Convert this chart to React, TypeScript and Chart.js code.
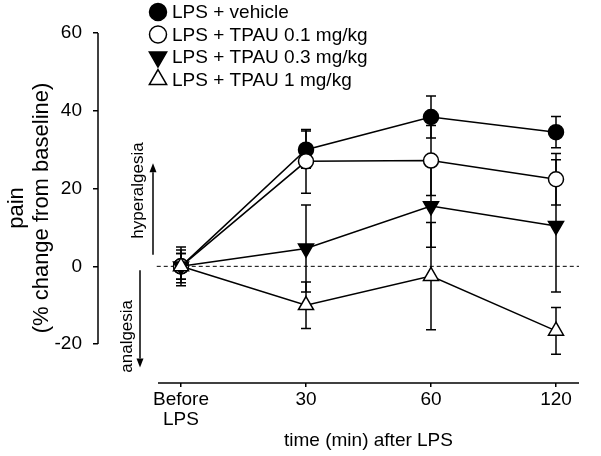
import React, { useEffect, useRef } from 'react';
import { Chart, registerables } from 'chart.js';

Chart.register(...registerables);

// ---- data ----
const categories: (string | string[])[] = [['Before', 'LPS'], '30', '60', '120'];
const seriesLabels = ['LPS + vehicle', 'LPS + TPAU 0.1 mg/kg', 'LPS + TPAU 0.3 mg/kg', 'LPS + TPAU 1 mg/kg'];
const vehicleMean = [0, 30, 38.4, 34.5];
const vehicleSem = [5, 4.8, 5.4, 4];
const tpau01Mean = [0, 27, 27.2, 22.4];
const tpau01Sem = [4.2, 8.2, 9, 6.6];
const tpau03Mean = [0, 4.6, 15.5, 10.4];
const tpau03Sem = [3.3, 11.2, 10.6, 17];
const tpau1Mean = [0, -10, -2.5, -16.6];
const tpau1Sem = [3.3, 6, 13.8, 6];
const yTickValues = [-20, 0, 20, 40, 60];
const xTitle = 'time (min) after LPS';
const yTitle = ['pain', '(% change from baseline)'];
const upLabel = 'hyperalgesia';
const downLabel = 'analgesia';

const means = [vehicleMean, tpau01Mean, tpau03Mean, tpau1Mean];
const sems = [vehicleSem, tpau01Sem, tpau03Sem, tpau1Sem];

// ---- styles ----
const FONT = "'Liberation Sans', Arial, sans-serif";
const markerStyles = [
  { shape: 'circle', rotation: 0, fill: '#000', r: 7.5, lr: 8.5 },
  { shape: 'circle', rotation: 0, fill: '#fff', r: 7.5, lr: 8.5 },
  { shape: 'triangle', rotation: 180, fill: '#000', r: 8.7, lr: 10 },
  { shape: 'triangle', rotation: 0, fill: '#fff', r: 8.7, lr: 10 },
];

function drawMarker(ctx: CanvasRenderingContext2D, x: number, y: number, m: any, r: number) {
  ctx.save();
  ctx.beginPath();
  if (m.shape === 'circle') {
    ctx.arc(x, y, r, 0, Math.PI * 2);
  } else {
    let rad = (m.rotation * Math.PI) / 180;
    for (let k = 0; k < 3; k++) {
      const px = x + Math.sin(rad) * r;
      const py = y - Math.cos(rad) * r;
      if (k === 0) ctx.moveTo(px, py);
      else ctx.lineTo(px, py);
      rad += (2 * Math.PI) / 3;
    }
    ctx.closePath();
  }
  ctx.fillStyle = m.fill;
  ctx.fill();
  ctx.lineWidth = 1.5;
  ctx.strokeStyle = '#000';
  ctx.stroke();
  ctx.restore();
}

function drawArrow(ctx: CanvasRenderingContext2D, x: number, y0: number, y1: number) {
  const dir = y1 < y0 ? -1 : 1;
  const head = 9;
  ctx.beginPath();
  ctx.moveTo(x, y0);
  ctx.lineTo(x, y1 - dir * head);
  ctx.stroke();
  ctx.beginPath();
  ctx.moveTo(x, y1);
  ctx.lineTo(x - 3.5, y1 - dir * head);
  ctx.lineTo(x + 3.5, y1 - dir * head);
  ctx.closePath();
  ctx.fill();
}

function rotatedText(ctx: CanvasRenderingContext2D, text: string, x: number, y: number) {
  ctx.save();
  ctx.translate(x, y);
  ctx.rotate(-Math.PI / 2);
  ctx.textAlign = 'center';
  ctx.textBaseline = 'middle';
  ctx.fillText(text, 0, 0);
  ctx.restore();
}

const X_LINE_MIN = -0.184;
const X_LINE_MAX = 3.184;

const decorPlugin = {
  id: 'decor',
  beforeDatasetsDraw(chart: any) {
    const { ctx, chartArea } = chart;
    const x = chart.scales.x;
    const y = chart.scales.y;
    ctx.save();
    ctx.strokeStyle = '#000';
    ctx.fillStyle = '#000';
    ctx.lineWidth = 1.5;
    // y axis line (-20 .. 60)
    ctx.beginPath();
    ctx.moveTo(chartArea.left, y.getPixelForValue(yTickValues[yTickValues.length - 1]));
    ctx.lineTo(chartArea.left, y.getPixelForValue(yTickValues[0]));
    ctx.stroke();
    // x axis line
    ctx.beginPath();
    ctx.moveTo(x.getPixelForValue(X_LINE_MIN), chartArea.bottom);
    ctx.lineTo(x.getPixelForValue(X_LINE_MAX), chartArea.bottom);
    ctx.stroke();
    // dashed zero line
    ctx.save();
    ctx.lineWidth = 1;
    ctx.setLineDash([4, 3]);
    ctx.beginPath();
    ctx.moveTo(x.getPixelForValue(X_LINE_MIN - 0.01), y.getPixelForValue(0));
    ctx.lineTo(x.getPixelForValue(X_LINE_MAX), y.getPixelForValue(0));
    ctx.stroke();
    ctx.restore();
    // error bars
    ctx.lineWidth = 1.5;
    means.forEach((arr, i) => {
      arr.forEach((v, j) => {
        const px = x.getPixelForValue(j);
        const top = y.getPixelForValue(v + sems[i][j]);
        const bot = y.getPixelForValue(v - sems[i][j]);
        ctx.beginPath();
        ctx.moveTo(px, top);
        ctx.lineTo(px, bot);
        ctx.moveTo(px - 5, top);
        ctx.lineTo(px + 5, top);
        ctx.moveTo(px - 5, bot);
        ctx.lineTo(px + 5, bot);
        ctx.stroke();
      });
    });
    // hyperalgesia / analgesia annotations
    ctx.font = `17px ${FONT}`;
    drawArrow(ctx, x.getPixelForValue(-0.224), y.getPixelForValue(3), y.getPixelForValue(26.5));
    rotatedText(ctx, upLabel, x.getPixelForValue(-0.344), y.getPixelForValue(19.5));
    drawArrow(ctx, x.getPixelForValue(-0.328), y.getPixelForValue(-1), y.getPixelForValue(-26));
    rotatedText(ctx, downLabel, x.getPixelForValue(-0.432), y.getPixelForValue(-18));
    ctx.restore();
  },
  afterDraw(chart: any) {
    const { ctx, chartArea } = chart;
    const x = chart.scales.x;
    ctx.save();
    // x title centred on the axis line
    ctx.fillStyle = '#000';
    ctx.font = `19px ${FONT}`;
    ctx.textAlign = 'center';
    ctx.textBaseline = 'middle';
    const cx = (x.getPixelForValue(X_LINE_MIN) + x.getPixelForValue(X_LINE_MAX)) / 2;
    ctx.fillText(xTitle, cx, chart.height - 15);
    // legend
    ctx.textAlign = 'left';
    chart.data.datasets.forEach((ds: any, i: number) => {
      const cy = 12 + i * 22.5;
      drawMarker(ctx, chartArea.left + 60, cy, markerStyles[i], markerStyles[i].lr);
      ctx.fillStyle = '#000';
      ctx.fillText(ds.label, chartArea.left + 74, cy + 1);
    });
    ctx.restore();
  },
};

export default function App() {
  const ref = useRef<HTMLCanvasElement | null>(null);
  useEffect(() => {
    if (!ref.current) return;
    Chart.defaults.font.family = FONT;
    Chart.defaults.color = '#000';
    const chart = new Chart(ref.current, {
      type: 'line',
      data: {
        datasets: means.map((arr, i) => ({
          label: seriesLabels[i],
          data: arr.map((v, j) => ({ x: j, y: v })),
          borderColor: '#000',
          borderWidth: 1.5,
          pointStyle: markerStyles[i].shape as any,
          rotation: markerStyles[i].rotation,
          pointRadius: markerStyles[i].r,
          pointBackgroundColor: markerStyles[i].fill,
          pointBorderColor: '#000',
          pointBorderWidth: 1.5,
          tension: 0,
          clip: false as any,
          order: -i,
        })),
      },
      options: {
        animation: false,
        responsive: false,
        layout: { padding: { top: 33, right: 16, left: 0, bottom: 0 } },
        plugins: { legend: { display: false }, tooltip: { enabled: false } },
        scales: {
          x: {
            type: 'linear',
            min: -0.664,
            max: 3.232,
            afterBuildTicks: (s: any) => {
              s.ticks = categories.map((_, i) => ({ value: i }));
            },
            afterFit: (s: any) => {
              s.height = 73;
            },
            border: { display: false },
            grid: { display: true, drawOnChartArea: false, drawTicks: true, tickLength: 4, color: '#000', lineWidth: 1.5 },
            ticks: {
              autoSkip: false,
              maxRotation: 0,
              padding: 3,
              font: { size: 19, lineHeight: 1.05 },
              color: '#000',
              callback: (v: any) => categories[Math.round(Number(v))] as any,
            },
          },
          y: {
            type: 'linear',
            min: -30,
            max: 60,
            afterBuildTicks: (s: any) => {
              s.ticks = yTickValues.map((v) => ({ value: v }));
            },
            afterFit: (s: any) => {
              s.width = 98;
            },
            border: { display: false },
            grid: { display: true, drawOnChartArea: false, drawTicks: true, tickLength: 5, color: '#000', lineWidth: 1.5 },
            ticks: { padding: 11, font: { size: 19 }, color: '#000' },
            title: {
              display: true,
              text: yTitle,
              font: { size: 22, lineHeight: 1.15 },
              color: '#000',
              padding: { top: 4, bottom: 0 },
            },
          },
        },
      },
      plugins: [decorPlugin],
    });
    return () => chart.destroy();
  }, []);
  return (
    <div style={{ position: 'fixed', left: 0, top: 0, width: 601, height: 456, background: '#fff' }}>
      <canvas ref={ref} width={601} height={456} style={{ display: 'block' }} />
    </div>
  );
}
